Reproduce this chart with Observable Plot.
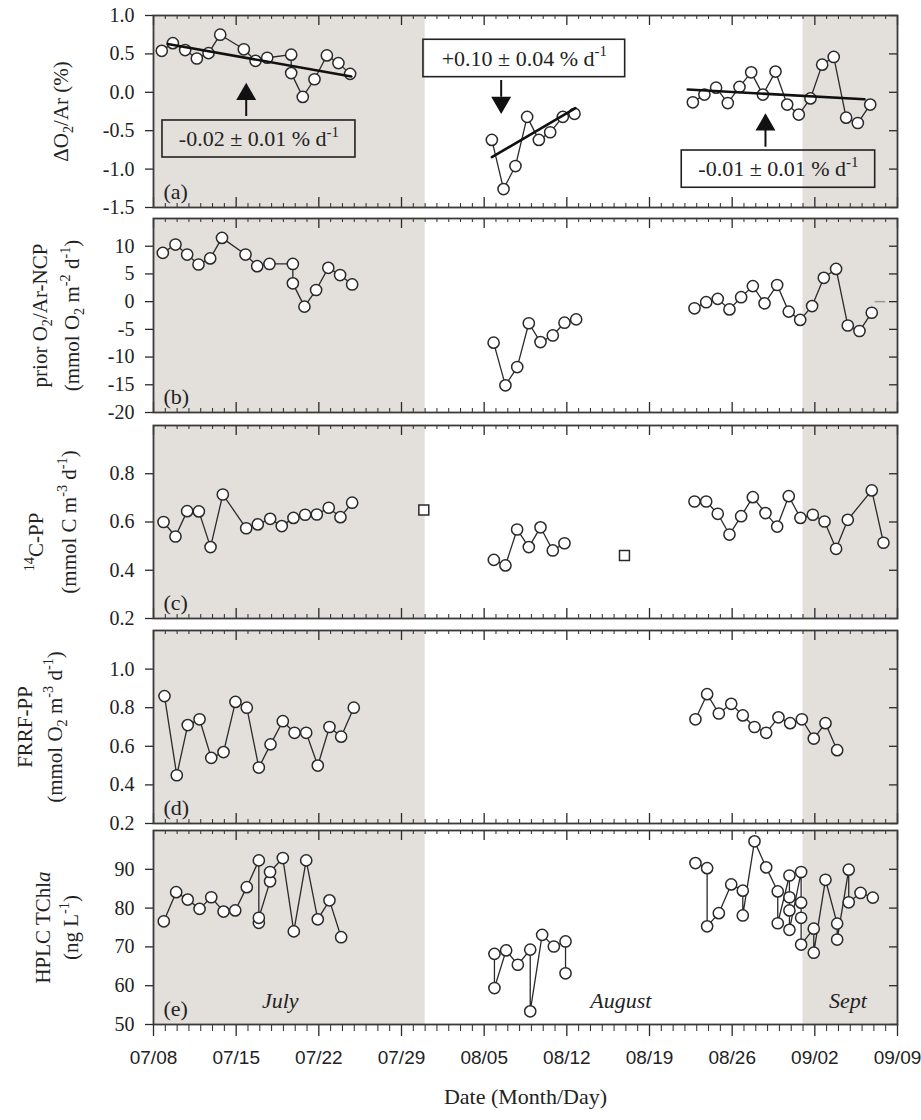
<!DOCTYPE html>
<html><head><meta charset="utf-8">
<script src="https://cdn.jsdelivr.net/npm/d3@7"></script>
<script src="https://cdn.jsdelivr.net/npm/@observablehq/plot@0.6"></script>
<style>
html,body{margin:0;padding:0;background:#fff;}
#chart svg{display:block;}
</style></head><body><div id="chart"></div>
<script>
// ---------- DATA (days after 07/08 00:00) ----------
const xTickDays   = [0, 7, 14, 21, 28, 35, 42, 49, 56, 63];
const xTickLabels = ["07/08","07/15","07/22","07/29","08/05","08/12","08/19","08/26","09/02","09/09"];
const shadeStart = [0, 55];   // 07/08 and 09/01
const shadeEnd   = [23, 63];  // 07/31 and 09/09

// (a) ΔO2/Ar (%)
const aDay = [0.7,1.64,2.68,3.67,4.66,5.65,7.65,8.64,9.63,11.66,11.66,12.64,13.63,14.68,15.66,16.65,
  28.65,29.64,30.65,31.64,32.63,33.59,34.66,35.65,
  45.67,46.65,47.64,48.63,49.62,50.61,51.6,52.67,53.66,54.64,55.63,56.62,57.6,58.65,59.64,60.69];
const aVal = [0.54,0.64,0.55,0.44,0.51,0.75,0.56,0.41,0.45,0.49,0.25,-0.06,0.17,0.48,0.38,0.24,
  -0.62,-1.26,-0.96,-0.32,-0.62,-0.52,-0.32,-0.28,
  -0.13,-0.03,0.06,-0.14,0.07,0.26,-0.03,0.27,-0.16,-0.29,-0.08,0.36,0.46,-0.33,-0.40,-0.16];
// fitted trend lines (start/end of each)
const trendSeg  = [1, 1, 2, 2, 3, 3];
const trendDay  = [1.2, 16.75, 28.65, 35.73, 45.24, 60.2];
const trendVal  = [0.63, 0.206, -0.845, -0.207, 0.036, -0.09];
const slopeText = ["-0.02 ± 0.01 % d^{-1}", "+0.10 ± 0.04 % d^{-1}", "-0.01 ± 0.01 % d^{-1}"];
const boxDay1 = [0.76, 22.86, 44.73], boxDay2 = [17.1, 39.94, 61.11];
const boxVal1 = [-0.367, 0.684, -0.758], boxVal2 = [-0.849, 0.197, -1.243];
const arrowDay = [7.85, 29.44, 51.82];
const arrowStem1 = [-0.098, 0.154, -0.497], arrowStem2 = [-0.315, -0.064, -0.715];
const arrowHead = [-0.026, -0.133, -0.424];
const arrowDir = ["up", "down", "up"];

// (b) prior O2/Ar-NCP
const bDay = [0.79,1.86,2.85,3.81,4.8,5.8,7.79,8.78,9.82,11.8,11.8,12.78,13.77,14.8,15.8,16.82,
  28.8,29.8,30.8,31.78,32.77,33.81,34.8,35.79,
  45.81,46.8,47.78,48.77,49.76,50.75,51.74,52.81,53.79,54.76,55.77,56.76,57.8,58.79,59.78,60.82];
const bVal = [8.8,10.3,8.5,6.7,7.8,11.5,8.5,6.4,6.8,6.8,3.3,-0.9,2.1,6.1,4.8,3.1,
  -7.4,-15.1,-11.8,-3.9,-7.3,-6.1,-3.8,-3.2,
  -1.2,-0.1,0.5,-1.4,0.8,2.8,-0.3,3.0,-1.8,-3.3,-0.8,4.3,5.9,-4.3,-5.3,-2.0];
const bMarkDay = [61.1, 62.0];

// (c) 14C-PP
const cDay = [0.85,1.86,2.85,3.84,4.83,5.87,7.85,8.83,9.88,10.86,11.85,12.84,13.83,14.84,15.83,16.82,
  28.82,29.8,30.79,31.78,32.77,33.81,34.8,
  45.81,46.8,47.78,48.77,49.76,50.75,51.82,52.81,53.79,54.78,55.83,56.82,57.8,58.79,60.82,61.81];
const cVal = [0.60,0.54,0.645,0.644,0.496,0.714,0.574,0.59,0.613,0.583,0.617,0.63,0.631,0.659,0.62,0.68,
  0.443,0.42,0.569,0.496,0.578,0.482,0.512,
  0.685,0.685,0.634,0.548,0.624,0.703,0.637,0.581,0.707,0.617,0.63,0.602,0.489,0.609,0.731,0.514];
const cSqDay = [22.89, 39.88];
const cSqVal = [0.65, 0.461];

// (d) FRRF-PP
const dDay = [0.93,1.97,2.9,3.9,4.89,5.93,6.94,7.9,8.92,9.91,10.95,11.94,12.93,13.91,14.9,15.89,16.96,
  45.89,46.88,47.87,48.92,49.9,50.89,51.88,52.92,53.91,54.9,55.91,56.9,57.89];
const dVal = [0.86,0.45,0.71,0.74,0.54,0.57,0.83,0.80,0.49,0.61,0.73,0.67,0.67,0.50,0.70,0.65,0.80,
  0.74,0.87,0.77,0.82,0.76,0.70,0.67,0.75,0.72,0.74,0.64,0.72,0.58];

// (e) HPLC TChla
const eDay = [0.87,1.92,2.9,3.9,4.89,5.93,6.92,7.9,8.92,8.92,8.92,9.87,9.87,10.95,11.88,12.93,13.91,14.9,15.89,
  28.87,28.87,29.86,30.85,31.9,31.9,32.91,33.9,34.89,34.89,
  45.89,46.88,46.88,47.87,48.92,49.9,49.9,50.89,51.88,52.86,52.86,53.85,53.85,53.85,53.85,
  54.84,54.84,54.84,54.84,55.91,55.91,56.9,57.89,57.89,58.87,58.87,59.87,60.91];
const eVal = [76.6,84.1,82.2,79.8,82.8,79.1,79.4,85.4,92.3,76.2,77.5,86.9,89.3,92.9,74.0,92.3,77.1,82.0,72.5,
  68.2,59.4,69.1,65.4,69.3,53.4,73.1,70.1,71.4,63.2,
  91.6,90.3,75.3,78.7,86.1,84.5,78.1,97.2,90.5,84.3,76.1,88.4,82.8,79.4,74.4,
  89.3,81.4,77.5,70.6,74.7,68.5,87.3,76.0,71.9,89.9,81.5,83.9,82.7];
const monthNames = ["July", "August", "Sept"];
const monthDay = [10.73, 39.57, 58.8];
const monthVal = [56, 56, 56];

// ---------- HELPERS ----------
const base = Date.UTC(2012, 6, 8);
const toDate = d => new Date(base + d * 864e5);
const SERIF = "'Liberation Serif', 'Times New Roman', serif";
const SANS = "'Liberation Sans', Arial, sans-serif";
const INK = "#2a2a2a";
const SHADE = "#e3dfdb";
const W = 921, ML = 153, MR = 24, FW = W - ML - MR;

const shade = shadeStart.map((s, i) => ({s: toDate(s), e: toDate(shadeEnd[i])}));
const majors = xTickDays.map(toDate);
const minors = d3.range(0, 64).filter(d => d % 7 !== 0).map(toDate);

const triDown = {draw(ctx, size) {
  const y = Math.sqrt(size / (Math.sqrt(3) * 3));
  ctx.moveTo(0, 2 * y); ctx.lineTo(-Math.sqrt(3) * y, -y); ctx.lineTo(Math.sqrt(3) * y, -y); ctx.closePath();
}};

function series(day, val) {
  let seg = 0;
  return day.map((d, i) => {
    if (i > 0 && d - day[i - 1] > 5) seg++;
    return {date: toDate(d), v: val[i], seg};
  });
}

function panel({day, val, domain, yTicks, fmt, mt, fh, mb, titles, letter, extra = [], bottomAxis = false}) {
  const pts = series(day, val);
  const marks = [
    Plot.rect(shade, {x1: "s", x2: "e", fill: SHADE}),
    Plot.tickX(minors, {x: d => d, insetBottom: fh - 4, stroke: INK, strokeWidth: 1}),
    Plot.tickX(majors, {x: d => d, insetBottom: fh - 10, stroke: INK, strokeWidth: 1.3}),
    bottomAxis
      ? Plot.tickX(minors, {x: d => d, insetTop: fh, insetBottom: -7, stroke: INK, strokeWidth: 1})
      : Plot.tickX(minors, {x: d => d, insetTop: fh - 4, stroke: INK, strokeWidth: 1}),
    bottomAxis
      ? Plot.tickX(majors, {x: d => d, insetTop: fh, insetBottom: -12, stroke: INK, strokeWidth: 1.3})
      : Plot.tickX(majors, {x: d => d, insetTop: fh - 10, stroke: INK, strokeWidth: 1.3}),
    Plot.tickY(yTicks, {y: d => d, insetLeft: FW - 8, stroke: INK, strokeWidth: 1.3}),
    Plot.axisY({ticks: yTicks, tickFormat: fmt, tickSize: 8, tickPadding: 11, fontSize: 20, fontFamily: SERIF, stroke: INK, strokeWidth: 1.3, color: "#222"}),
    Plot.frame({stroke: "#3a3a3a", strokeWidth: 1.8}),
    Plot.line(pts, {x: "date", y: "v", z: "seg", stroke: INK, strokeWidth: 1.3}),
    Plot.dot(pts, {x: "date", y: "v", r: 5.6, fill: "white", stroke: INK, strokeWidth: 1.5}),
    ...extra,
    Plot.text([letter], {text: d => d, frameAnchor: "bottom-left", textAnchor: "start", lineAnchor: "bottom", dx: 10, dy: -9, fontSize: 22, fontFamily: SERIF, fill: "#222"}),
    ...titles.map(t => Plot.text([t.text], {text: d => d, frameAnchor: "left", textAnchor: "middle", lineAnchor: "middle", rotate: -90, dx: t.dx, dy: t.dy || 0, fontSize: 21, fontFamily: SERIF, fill: "#222"}))
  ];
  if (bottomAxis) {
    marks.push(Plot.axisX({ticks: majors, tickFormat: (d, i) => xTickLabels[i], tickSize: 0, tickPadding: 26, fontSize: 19, fontFamily: SANS, color: "#222"}));
    marks.push(Plot.text(["Date (Month/Day)"], {text: d => d, frameAnchor: "bottom", dy: 79, fontSize: 22, fontFamily: SERIF, fill: "#222"}));
  }
  return Plot.plot({
    width: W, height: mt + fh + mb, marginTop: mt, marginBottom: mb, marginLeft: ML, marginRight: MR,
    x: bottomAxis ? {type: "utc", domain: [toDate(0), toDate(63)], label: null}
                  : {type: "utc", domain: [toDate(0), toDate(63)], label: null, axis: null},
    y: {domain, label: null},
    style: {fontFamily: SERIF, fontSize: "20px", color: "#222", background: "white", overflow: "visible"},
    marks
  });
}

// ---------- PANELS ----------
const trend = trendDay.map((d, i) => ({date: toDate(d), v: trendVal[i], seg: trendSeg[i]}));
const boxes = boxDay1.map((d, i) => ({x1: toDate(d), x2: toDate(boxDay2[i]), y1: boxVal1[i], y2: boxVal2[i],
  cx: toDate((d + boxDay2[i]) / 2), cy: (boxVal1[i] + boxVal2[i]) / 2, text: slopeText[i]}));
const arrows = arrowDay.map((d, i) => ({date: toDate(d), y1: arrowStem1[i], y2: arrowStem2[i], head: arrowHead[i], dir: arrowDir[i]}));

const pA = panel({day: aDay, val: aVal, domain: [-1.5, 1.0], yTicks: [-1.5, -1.0, -0.5, 0, 0.5, 1.0], fmt: d => d.toFixed(1),
  mt: 15, fh: 192, mb: 5, letter: "(a)",
  titles: [{text: "ΔO_{2}/Ar (%)", dx: -92}],
  extra: [
    Plot.line(trend, {x: "date", y: "v", z: "seg", stroke: "#111", strokeWidth: 2.6}),
    Plot.rect(boxes, {x1: "x1", x2: "x2", y1: "y1", y2: "y2", fill: "none", stroke: "#222", strokeWidth: 1.6}),
    Plot.text(boxes, {x: "cx", y: "cy", text: "text", fontSize: 22, fontFamily: SERIF, fill: "#222"}),
    Plot.ruleX(arrows, {x: "date", y1: "y1", y2: "y2", stroke: "#111", strokeWidth: 2}),
    Plot.dot(arrows.filter(a => a.dir === "up"), {x: "date", y: "head", symbol: "triangle", r: 7.4, fill: "#111", stroke: "none"}),
    Plot.dot(arrows.filter(a => a.dir === "down"), {x: "date", y: "head", symbol: triDown, r: 7.4, fill: "#111", stroke: "none"})
  ]});

const pB = panel({day: bDay, val: bVal, domain: [-20, 15], yTicks: [-20, -15, -10, -5, 0, 5, 10], fmt: d => String(d),
  mt: 6, fh: 194, mb: 6, letter: "(b)",
  titles: [{text: "prior O_{2}/Ar-NCP", dx: -113}, {text: "(mmol O_{2} m^{-2} d^{-1})", dx: -81}],
  extra: [Plot.ruleY([0], {x1: toDate(bMarkDay[0]), x2: toDate(bMarkDay[1]), stroke: "#999", strokeWidth: 1.5})]});

const pC = panel({day: cDay, val: cVal, domain: [0.2, 1.0], yTicks: [0.2, 0.4, 0.6, 0.8], fmt: d => d.toFixed(1),
  mt: 7, fh: 193, mb: 6, letter: "(c)",
  titles: [{text: "^{14}C-PP", dx: -117, dy: 20}, {text: "(mmol C m^{-3} d^{-1})", dx: -84}],
  extra: [Plot.dot(cSqDay.map((d, i) => ({date: toDate(d), v: cSqVal[i]})), {x: "date", y: "v", symbol: "square", r: 5.6, fill: "white", stroke: INK, strokeWidth: 1.5})]});

const pD = panel({day: dDay, val: dVal, domain: [0.2, 1.2], yTicks: [0.2, 0.4, 0.6, 0.8, 1.0], fmt: d => d.toFixed(1),
  mt: 6, fh: 193, mb: 4, letter: "(d)",
  titles: [{text: "FRRF-PP", dx: -128}, {text: "(mmol O_{2} m^{-3} d^{-1})", dx: -98}]});

const pE = panel({day: eDay, val: eVal, domain: [50, 100], yTicks: [50, 60, 70, 80, 90], fmt: d => String(d),
  mt: 3, fh: 194, mb: 96, letter: "(e)", bottomAxis: true,
  titles: [{text: "HPLC TChl*a*", dx: -110}, {text: "(ng L^{-1})", dx: -82}],
  extra: [Plot.text(monthNames.map((m, i) => ({m, date: toDate(monthDay[i]), v: monthVal[i]})), {x: "date", y: "v", text: "m", fontSize: 22, fontStyle: "italic", fontFamily: SERIF, fill: "#222"})]});

const chart = document.getElementById("chart");
[pA, pB, pC, pD, pE].forEach(p => chart.appendChild(p));

// rich text: _{sub}, ^{sup}, *italic*
function richify(root) {
  root.querySelectorAll("text, tspan").forEach(el => {
    if (el.children.length) return;
    const s = el.textContent;
    if (!/[_^]\{|\*/.test(s)) return;
    const fs = parseFloat(getComputedStyle(el).fontSize) || 20;
    const parts = s.split(/(_\{[^}]*\}|\^\{[^}]*\}|\*[^*]+\*)/).filter(p => p !== "");
    el.textContent = "";
    let cur = 0;
    for (const p of parts) {
      const t = document.createElementNS("http://www.w3.org/2000/svg", "tspan");
      let shift = 0, txt = p;
      if (p.startsWith("_{")) { shift = 0.22 * fs; txt = p.slice(2, -1); t.setAttribute("font-size", 0.68 * fs); }
      else if (p.startsWith("^{")) { shift = -0.42 * fs; txt = p.slice(2, -1); t.setAttribute("font-size", 0.68 * fs); }
      else if (p.startsWith("*")) { txt = p.slice(1, -1); t.setAttribute("font-style", "italic"); }
      if (shift !== cur) { t.setAttribute("dy", shift - cur); cur = shift; }
      t.textContent = txt;
      el.appendChild(t);
    }
  });
}
richify(chart);
</script></body></html>
